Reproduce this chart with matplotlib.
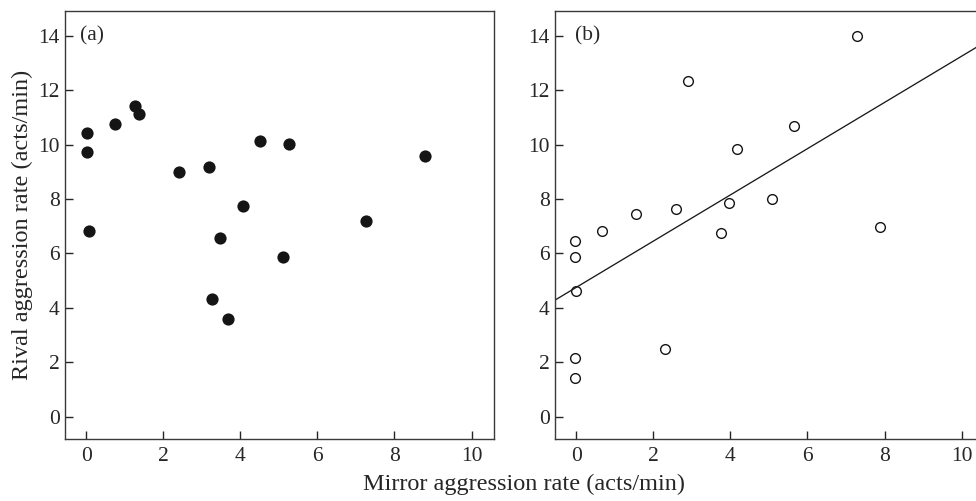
import numpy as np
import matplotlib
matplotlib.use("Agg")
import matplotlib.pyplot as plt

plt.rcParams["font.family"] = ["Liberation Serif", "DejaVu Serif"]

# Panel (a): mirror vs rival aggression
mirror_a = [0.03, 0.03, 0.07, 0.75, 1.26, 1.38, 2.40, 3.19, 4.08, 3.47,
            4.50, 5.26, 8.79, 7.27, 5.10, 3.26, 3.67]
rival_a = [10.43, 9.71, 6.83, 10.76, 11.42, 11.13, 9.00, 9.18, 7.76, 6.55,
           10.13, 10.02, 9.58, 7.19, 5.85, 4.34, 3.58]

# Panel (b)
mirror_b = [-0.03, -0.03, 0.00, -0.03, -0.03, 0.67, 1.56, 2.59, 2.90, 2.30,
            3.75, 3.97, 4.18, 5.09, 5.66, 7.29, 7.88]
rival_b = [6.46, 5.85, 4.61, 2.15, 1.41, 6.83, 7.46, 7.63, 12.33, 2.48,
           6.74, 7.85, 9.83, 8.00, 10.67, 14.00, 6.98]

# regression line shown in panel (b)
fit_intercept = 4.75
fit_slope = 0.85

x_ticks = [0, 2, 4, 6, 8, 10]
y_ticks = [0, 2, 4, 6, 8, 10, 12, 14]
xlim = (-0.54, 10.58)
ylim = (-0.81, 14.91)

ink = "#262626"
tick_fs = 15.5
label_fs = 17.5

fig = plt.figure(figsize=(9.76, 5.01), dpi=100)
ax_a = fig.add_axes([0.0669, 0.1244, 0.4392, 0.8536])
ax_b = fig.add_axes([0.5690, 0.1244, 0.4392, 0.8536])

ax_a.plot(mirror_a, rival_a, "o", color="#151515", markersize=8.8,
          markeredgewidth=0, clip_on=False)
ax_b.plot(mirror_b, rival_b, "o", markerfacecolor="white",
          markeredgecolor="#151515", markersize=7.0, markeredgewidth=1.0,
          clip_on=False)

xs = np.array(xlim)
ax_b.plot(xs, fit_intercept + fit_slope * xs, color="#1a1a1a", linewidth=0.95)

for ax, tag, tx in [(ax_a, "(a)", -0.15), (ax_b, "(b)", -0.03)]:
    ax.set_xlim(*xlim)
    ax.set_ylim(*ylim)
    ax.set_xticks(x_ticks)
    ax.set_yticks(y_ticks)
    ax.tick_params(axis="both", direction="in", length=5.5, width=1.0,
                   color=ink, labelcolor=ink, labelsize=tick_fs)
    ax.tick_params(axis="x", pad=6.0)
    ax.tick_params(axis="y", pad=4.0)
    for sp in ax.spines.values():
        sp.set_color("#3a3a3a")
        sp.set_linewidth(1.0)
    ax.text(tx, 14, tag, fontsize=tick_fs, color=ink, ha="left", va="center")

fig.text(0.537, 0.022, "Mirror aggression rate (acts/min)", ha="center",
         va="baseline", fontsize=label_fs, color=ink)
fig.text(0.0225, 0.551, "Rival aggression rate (acts/min)", ha="center",
         va="center", rotation=90, fontsize=label_fs, color=ink)

fig.savefig("out.png", dpi=100)
